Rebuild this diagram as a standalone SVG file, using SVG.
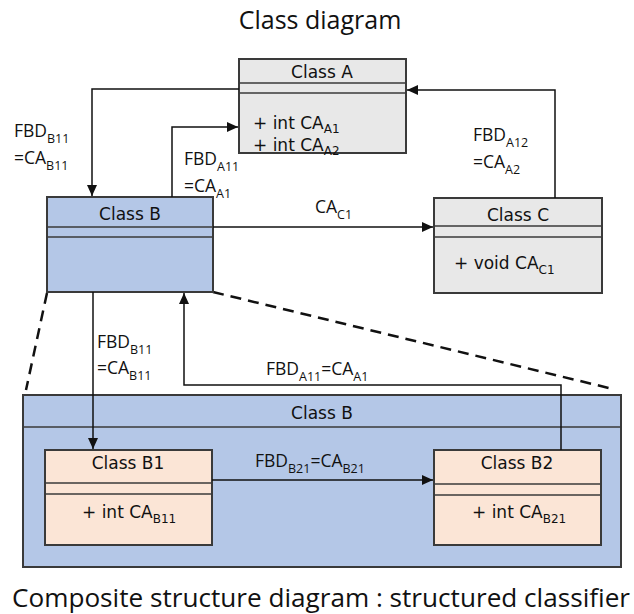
<svg xmlns="http://www.w3.org/2000/svg" width="634" height="614" viewBox="0 0 634 614">
  <style>
    .box { stroke: #3a3a3a; stroke-width: 2; }
    .sep { stroke: #3a3a3a; stroke-width: 1.5; fill: none; }
    .gray { fill: #e8e8e8; }
    .blue { fill: #b4c7e7; }
    .peach { fill: #fbe5d6; }
    .name { font-family: "DejaVu Sans", sans-serif; font-size: 17px; fill: #111; text-anchor: middle; }
    .attr { font-family: "DejaVu Sans", sans-serif; font-size: 17px; fill: #111; }
    .lbl { font-family: "Open Sans", sans-serif; font-size: 17.5px; fill: #111; }
    .sub { font-size: 12.5px; }
    .asub { font-size: 12px; }
    .title { font-family: "Open Sans", sans-serif; font-size: 25px; fill: #111; }
    .conn { stroke: #111; stroke-width: 1.5; fill: none; }
    .dash { stroke: #111; stroke-width: 2.5; fill: none; stroke-dasharray: 11 7; }
  </style>
  <defs>
    <marker id="arrow" markerUnits="userSpaceOnUse" markerWidth="12" markerHeight="10" refX="11" refY="5" orient="auto">
      <path d="M0,0 L11,5 L0,10 Z" fill="#111"/>
    </marker>
  </defs>

  <text class="title" x="320" y="29" text-anchor="middle">Class diagram</text>

  <!-- dashed expansion lines from Class B to its internal structure -->
  <g id="expansion">
    <path class="dash" d="M47,293 L26,390"/>
    <path class="dash" d="M213,292 L613,389"/>
  </g>

  <!-- structured classifier: Class B internals -->
  <g id="classB-structured">
    <rect class="box blue" x="23" y="395" width="598" height="172"/>
    <line class="sep" x1="23" y1="427" x2="621" y2="427"/>
    <text class="name" x="322" y="419">Class B</text>
  </g>

  <g id="classA">
    <rect class="box gray" x="239" y="59" width="167" height="94"/>
    <line class="sep" x1="239" y1="83" x2="406" y2="83"/>
    <line class="sep" x1="239" y1="93" x2="406" y2="93"/>
    <text class="name" x="322" y="78">Class A</text>
    <text class="attr" x="253" y="129">+ int CA<tspan class="asub" dy="4">A1</tspan></text>
    <text class="attr" x="253" y="151">+ int CA<tspan class="asub" dy="4">A2</tspan></text>
  </g>

  <g id="classB">
    <rect class="box blue" x="47" y="197" width="166" height="95"/>
    <line class="sep" x1="47" y1="227" x2="213" y2="227"/>
    <line class="sep" x1="47" y1="237" x2="213" y2="237"/>
    <text class="name" x="130" y="220">Class B</text>
  </g>

  <g id="classC">
    <rect class="box gray" x="434" y="198" width="168" height="95"/>
    <line class="sep" x1="434" y1="226" x2="602" y2="226"/>
    <line class="sep" x1="434" y1="237" x2="602" y2="237"/>
    <text class="name" x="518" y="221">Class C</text>
    <text class="attr" x="454" y="269">+ void CA<tspan class="asub" dy="5">C1</tspan></text>
  </g>

  <g id="classB1">
    <rect class="box peach" x="45" y="450" width="167" height="95"/>
    <line class="sep" x1="45" y1="483" x2="212" y2="483"/>
    <line class="sep" x1="45" y1="494" x2="212" y2="494"/>
    <text class="name" x="128" y="469">Class B1</text>
    <text class="attr" x="82" y="518">+ int CA<tspan class="asub" dy="5">B11</tspan></text>
  </g>

  <g id="classB2">
    <rect class="box peach" x="434" y="450" width="167" height="95"/>
    <line class="sep" x1="434" y1="484" x2="601" y2="484"/>
    <line class="sep" x1="434" y1="495" x2="601" y2="495"/>
    <text class="name" x="517" y="469">Class B2</text>
    <text class="attr" x="472" y="518">+ int CA<tspan class="asub" dy="5">B21</tspan></text>
  </g>

  <!-- connectors -->
  <g id="connectors">
    <path class="conn" d="M239,89 H92 V196" marker-end="url(#arrow)"/>
    <path class="conn" d="M172,197 V127 H238" marker-end="url(#arrow)"/>
    <path class="conn" d="M555,198 V90 H407" marker-end="url(#arrow)"/>
    <path class="conn" d="M213,227 H433" marker-end="url(#arrow)"/>
    <path class="conn" d="M93,292 V449" marker-end="url(#arrow)"/>
    <path class="conn" d="M561,450 V385 H184 V293" marker-end="url(#arrow)"/>
    <path class="conn" d="M212,480 H433" marker-end="url(#arrow)"/>
  </g>

  <!-- connector labels -->
  <g id="labels">
    <text class="lbl" x="14" y="137">FBD<tspan class="sub" dy="6">B11</tspan></text>
    <text class="lbl" x="14" y="164">=CA<tspan class="sub" dy="6">B11</tspan></text>
    <text class="lbl" x="184" y="165">FBD<tspan class="sub" dy="6">A11</tspan></text>
    <text class="lbl" x="184" y="192">=CA<tspan class="sub" dy="6">A1</tspan></text>
    <text class="lbl" x="473" y="141">FBD<tspan class="sub" dy="6">A12</tspan></text>
    <text class="lbl" x="473" y="168">=CA<tspan class="sub" dy="6">A2</tspan></text>
    <text class="lbl" x="315" y="213">CA<tspan class="sub" dy="6">C1</tspan></text>
    <text class="lbl" x="97" y="348">FBD<tspan class="sub" dy="6">B11</tspan></text>
    <text class="lbl" x="97" y="374">=CA<tspan class="sub" dy="6">B11</tspan></text>
    <text class="lbl" x="266" y="375">FBD<tspan class="sub" dy="6">A11</tspan><tspan dy="-6">=CA</tspan><tspan class="sub" dy="6">A1</tspan></text>
    <text class="lbl" x="255" y="467">FBD<tspan class="sub" dy="6">B21</tspan><tspan dy="-6">=CA</tspan><tspan class="sub" dy="6">B21</tspan></text>
  </g>

  <text class="title" x="12" y="607" font-size="26" textLength="618" lengthAdjust="spacingAndGlyphs">Composite structure diagram : structured classifier</text>
</svg>
